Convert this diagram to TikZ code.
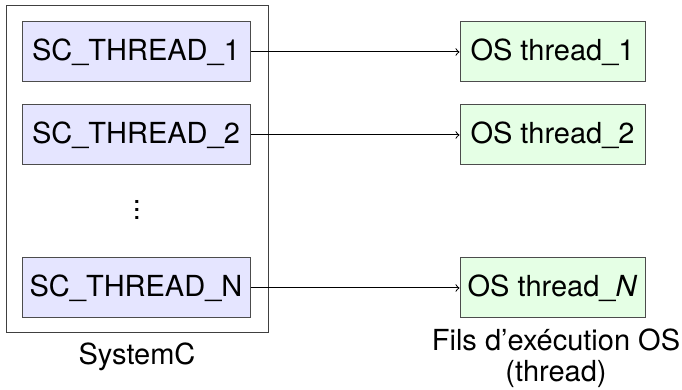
\documentclass[tikz,border=0pt]{standalone}
\usepackage{fontspec}
\setmainfont{TeX Gyre Heros}
\begin{document}
\begin{tikzpicture}[x=0.5pt,y=-0.5pt,
  every node/.style={font=\fontsize{14.5}{15.5}\selectfont, inner sep=0pt},
  scbox/.style={draw=black!70, fill=blue!10, line width=0.5pt, minimum width=114pt, minimum height=30pt},
  osbox/.style={draw=black!70, fill=green!10, line width=0.5pt, minimum width=92.5pt, minimum height=30pt},
  frame/.style={draw=black!75, line width=0.5pt, minimum width=131pt, minimum height=163.5pt},
  link/.style={->, line width=0.5pt, black}]
  \useasboundingbox (0,0) rectangle (682,390);

  % SystemC container
  \node[frame] (sysc) at (137,169.5) {};

  % SystemC threads
  \node[scbox] (sc1) at (136,52) {SC\_THREAD\_1};
  \node[scbox] (sc2) at (136,135) {SC\_THREAD\_2};
  \node (dots) at (137,204) {$\vdots$};
  \node[scbox] (scn) at (136,288) {SC\_THREAD\_N};

  % OS threads
  \node[osbox] (os1) at (552.5,52) {OS thread\_1};
  \node[osbox] (os2) at (552.5,135) {OS thread\_2};
  \node[osbox] (osn) at (552.5,288) {OS thread\_\textit{N}};

  % Mapping
  \draw[link] (sc1) -- (os1);
  \draw[link] (sc2) -- (os2);
  \draw[link] (scn) -- (osn);

  % Captions
  \node (lsys) at (137,357) {SystemC};
  \node[align=center] (los) at (556,358) {Fils d’exécution OS\\(thread)};
\end{tikzpicture}
\end{document}
